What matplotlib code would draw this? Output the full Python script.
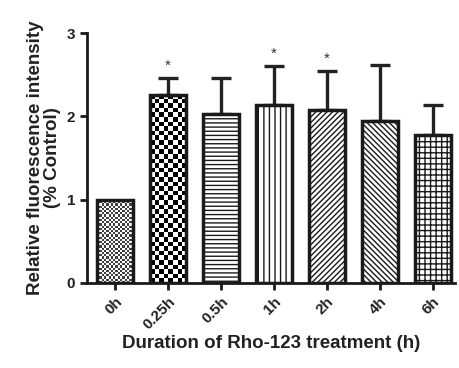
import numpy as np
import matplotlib.pyplot as plt

plt.rcParams['font.family'] = ['Liberation Sans', 'DejaVu Sans']
plt.rcParams['hatch.linewidth'] = 1.0

labels = ['0h', '0.25h', '0.5h', '1h', '2h', '4h', '6h']
means = [1.0, 2.26, 2.03, 2.14, 2.08, 1.95, 1.78]
errs = [0.0, 0.20, 0.43, 0.47, 0.47, 0.67, 0.36]
signif = [False, True, False, True, True, False, False]
hatches = [None, None, '----', '|||', '//////', '\\\\\\\\\\\\', '+++']
checker = [2.2, 4.6, 0, 0, 0, 0, 0]  # checker cell size in px for first two bars
dark = [0.25, 0.0, 0, 0, 0, 0, 0]  # darkest grey of each checker

fig = plt.figure(figsize=(4.6, 3.68), dpi=100)
ax = fig.add_axes([0.189, 0.231, 0.80, 0.679])

x = np.arange(len(labels))
faces = ['none' if c else 'white' for c in checker]
bars = ax.bar(x, means, width=0.68, color=faces, edgecolor='#1a1a1a', linewidth=2.5, zorder=3)
for b, h in zip(bars, hatches):
    if h:
        b.set_hatch(h)

# checkerboard fills for the first two bars
for b, c, d in zip(bars, checker, dark):
    if c == 0:
        continue
    x0, y0 = b.get_x(), b.get_y()
    w, hgt = b.get_width(), b.get_height()
    pw = w * 53
    ph = hgt * 83.2
    nx = max(int(round(pw / c)), 1)
    ny = max(int(round(ph / c)), 1)
    board = (np.add.outer(np.arange(ny), np.arange(nx)) % 2).astype(float)
    board = d + (1 - d) * board
    im = ax.imshow(board, cmap='gray', extent=[x0, x0 + w, y0, y0 + hgt],
                   aspect='auto', interpolation='nearest', zorder=2, vmin=0, vmax=1)
    im.set_clip_path(b)

ax.errorbar(x[1:], means[1:], yerr=[np.zeros(len(x) - 1), errs[1:]], fmt='none',
            ecolor='#222222', elinewidth=2.4, capsize=7.5, capthick=2.4, zorder=2)

for xi, m, e, s in zip(x, means, errs, signif):
    if s:
        ax.text(xi, m + e + 0.06, '*', ha='center', va='bottom', fontsize=11, color='#333333')

ax.set_xlim(-0.53, 6.42)
ax.set_ylim(0, 3)
ax.set_yticks([0, 1, 2, 3])
ax.set_xticks(x)
ax.set_xticklabels(labels, rotation=45, ha='right', rotation_mode='anchor')
for lab in ax.get_xticklabels() + ax.get_yticklabels():
    lab.set_fontweight('bold')
    lab.set_fontsize(11)
    lab.set_color('#222222')

ax.spines['top'].set_visible(False)
ax.spines['right'].set_visible(False)
for sp in ['left', 'bottom']:
    ax.spines[sp].set_linewidth(2)
    ax.spines[sp].set_color('#1a1a1a')
ax.tick_params(axis='both', width=2, length=5, color='#1a1a1a')

ax.set_ylabel('Relative fluorescence intensity\n(% Control)', fontsize=13.5, fontweight='bold',
              color='#222222', labelpad=4, linespacing=1.0)
ax.set_xlabel('Duration of Rho-123 treatment (h)', fontsize=13.5, fontweight='bold',
              color='#222222', labelpad=2)

fig.savefig('out.png', dpi=100)
